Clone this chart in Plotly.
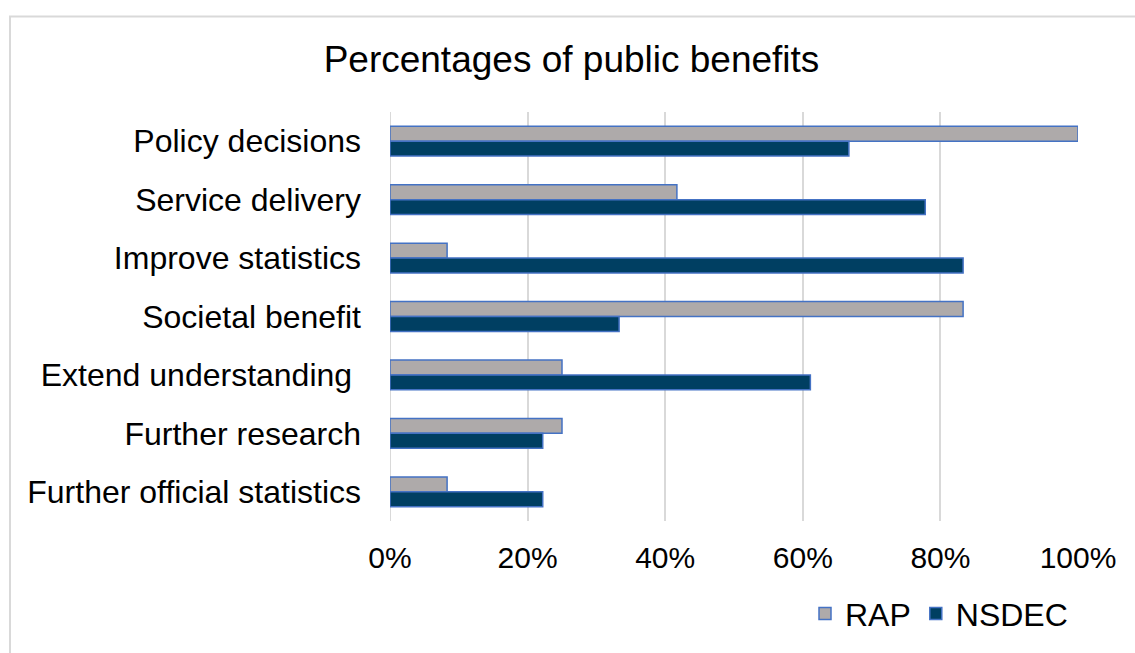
import plotly.graph_objects as go

categories = ["Policy decisions", "Service delivery", "Improve statistics", "Societal benefit",
              "Extend understanding\u00a0", "Further research", "Further official statistics"]
rap = [1.0, 0.417, 0.083, 0.833, 0.25, 0.25, 0.083]
nsdec = [0.667, 0.778, 0.833, 0.333, 0.611, 0.222, 0.222]
x_ticks = [0, 0.2, 0.4, 0.6, 0.8, 1.0]
x_tick_labels = ["0%", "20%", "40%", "60%", "80%", "100%"]

FONT = "Liberation Sans, Arial, sans-serif"
outline = "#4472C4"

fig = go.Figure()
fig.add_trace(go.Bar(y=categories, x=rap, orientation="h", name="RAP",
                     marker=dict(color="#AEAAAA", line=dict(color=outline, width=1.5))))
fig.add_trace(go.Bar(y=categories, x=nsdec, orientation="h", name="NSDEC",
                     marker=dict(color="#003F62", line=dict(color=outline, width=1.5))))

L, T, B, R = 390, 112, 126, 57
W, H = 1135, 653
pw, ph = W - L - R, H - T - B

fig.update_layout(
    width=W, height=H,
    margin=dict(l=L, r=R, t=T, b=B),
    paper_bgcolor="white", plot_bgcolor="white",
    barmode="group", bargap=0.49, bargroupgap=0,
    font=dict(family=FONT, color="#000000", size=32),
    title=dict(text="Percentages of public benefits", font=dict(size=37, family=FONT, color="#000000"),
               x=(571.5 - L) / pw, xref="paper", xanchor="center", y=1 - 59 / H, yref="container",
               yanchor="middle"),
    xaxis=dict(range=[0, 1.0], tickvals=x_ticks, ticktext=x_tick_labels, showgrid=True,
               gridcolor="#D9D9D9", gridwidth=2, zeroline=False, showline=False,
               ticklabelstandoff=16, tickfont=dict(size=30)),
    yaxis=dict(autorange="reversed", showgrid=False, showline=False, zeroline=False,
               ticklabelstandoff=28, tickfont=dict(size=32)),
    legend=dict(orientation="h", x=(1073 - L) / pw, xanchor="right", y=(H - B - 621) / ph,
                yanchor="middle", font=dict(size=32), traceorder="normal", itemwidth=30),
    shapes=[dict(type="rect", xref="paper", yref="paper", x0=(10 - L) / pw, x1=1.2, y0=-0.5,
                 y1=(H - B - 15) / ph,
                 line=dict(color="#D9D9D9", width=2), fillcolor="rgba(0,0,0,0)", layer="below"),
            dict(type="line", xref="x", yref="paper", x0=0, x1=0, y0=0, y1=1,
                 line=dict(color="#D9D9D9", width=2), layer="below")],
)

fig.write_html("out.html", config={"displayModeBar": False},
               post_script="document.body.style.margin='0';")
